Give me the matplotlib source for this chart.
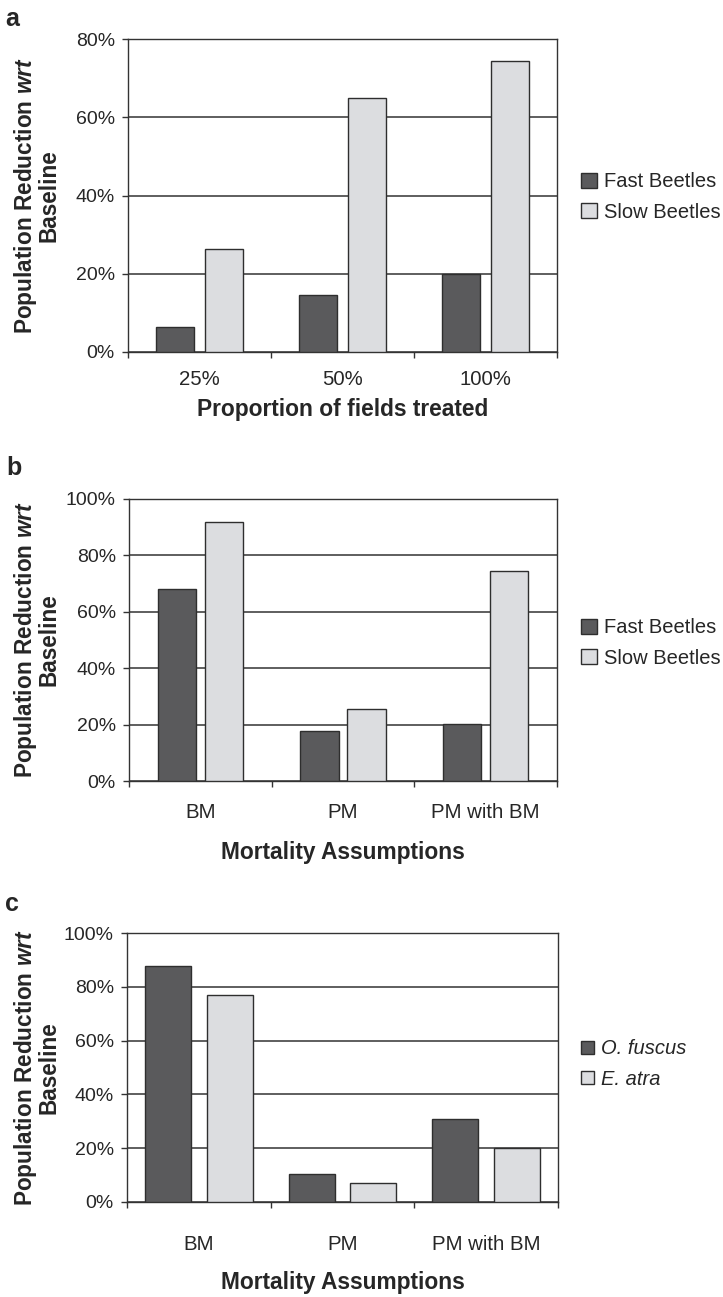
import matplotlib
matplotlib.use("Agg")
import matplotlib.pyplot as plt
import numpy as np
from matplotlib.patches import Patch

plt.rcParams['font.family'] = ['Liberation Sans', 'DejaVu Sans']
plt.rcParams['mathtext.fontset'] = 'custom'
plt.rcParams['mathtext.rm'] = 'Liberation Sans'
plt.rcParams['mathtext.it'] = 'Liberation Sans:italic'
plt.rcParams['mathtext.bf'] = 'Liberation Sans:bold'
plt.rcParams['mathtext.bfit'] = 'Liberation Sans:bold:italic'

# ---- data ----
cats_a = ["25%", "50%", "100%"]
fast_a = [6.3, 14.6, 20.0]
slow_a = [26.4, 64.8, 74.5]

cats_b = ["BM", "PM", "PM with BM"]
fast_b = [68.2, 17.6, 20.2]
slow_b = [91.8, 25.5, 74.5]

cats_c = ["BM", "PM", "PM with BM"]
ofuscus_c = [87.9, 10.4, 30.9]
eatra_c = [77.0, 6.9, 20.2]

legend_ab = ["Fast Beetles", "Slow Beetles"]
legend_c = ["O. fuscus", "E. atra"]

xlabels = ["Proportion of fields treated", "Mortality Assumptions", "Mortality Assumptions"]
ylabel = "Population Reduction $\\mathbfit{wrt}$\nBaseline"

DARK = "#5a5a5c"
LIGHT = "#dcdde0"
EDGE = "#2e2e2e"
TXT = "#262626"

W, H = 723, 1297
fig = plt.figure(figsize=(W / 100, H / 100), dpi=100)


def px_axes(left, top, right, bottom):
    return fig.add_axes([left / W, 1 - bottom / H, (right - left) / W, (bottom - top) / H])


def draw_panel(ax, cats, s1, s2, ymax, width, off, labels, italic, tick_pad,
               xlabel, xlabel_y, panel, panel_xy, leg_y, patch_size):
    x = np.arange(len(cats))
    ax.set_axisbelow(True)
    ax.yaxis.grid(True, color="#333333", linewidth=1.1)
    ax.bar(x - off, s1, width, color=DARK, edgecolor=EDGE, linewidth=1.0, zorder=3)
    ax.bar(x + off, s2, width, color=LIGHT, edgecolor=EDGE, linewidth=1.0, zorder=3)
    ax.set_xlim(-0.5, len(cats) - 0.5)
    ax.set_ylim(0, ymax)
    yt = np.arange(0, ymax + 1, 20)
    ax.set_yticks(yt)
    ax.set_yticklabels([f"{int(v)}%" for v in yt], fontsize=14, color=TXT)
    ax.set_xticks(np.arange(-0.5, len(cats), 1.0))
    ax.set_xticklabels([])
    ax.set_xticks(x, minor=True)
    ax.set_xticklabels(cats, minor=True, fontsize=14.7, color=TXT)
    ax.tick_params(axis='x', which='minor', length=0, pad=tick_pad)
    ax.tick_params(axis='x', which='major', length=4.5, width=1.0, color="#333333", direction='out')
    ax.tick_params(axis='y', length=4.5, width=1.0, color="#333333", direction='out', pad=5)
    for sp in ax.spines.values():
        sp.set_color("#333333")
        sp.set_linewidth(1.0)
    pos = ax.get_position()
    cx = 343 / W
    fig.text(cx, 1 - xlabel_y / H, xlabel, ha='center', va='center',
             fontsize=16.4, fontweight='bold', color=TXT)
    cy = pos.y0 + pos.height / 2
    fig.text(36 / W, cy, ylabel, rotation=90, ha='center', va='center',
             fontsize=16.3, fontweight='bold', color=TXT, linespacing=0.9,
             multialignment='center')
    fig.text(panel_xy[0] / W, 1 - panel_xy[1] / H, panel, ha='center', va='center',
             fontsize=18, fontweight='bold', color=TXT)
    handles = [Patch(facecolor=DARK, edgecolor=EDGE, linewidth=1.0),
               Patch(facecolor=LIGHT, edgecolor=EDGE, linewidth=1.0)]
    prop = {'size': 14.5, 'style': 'italic' if italic else 'normal'}
    leg = fig.legend(handles, labels, loc='center left',
                     bbox_to_anchor=(581 / W, 1 - leg_y / H),
                     frameon=False, prop=prop, borderpad=0, borderaxespad=0,
                     handlelength=patch_size, handleheight=patch_size,
                     handletextpad=0.35, labelspacing=0.55)
    for t in leg.get_texts():
        t.set_color(TXT)


ax_a = px_axes(128, 39, 557, 352)
draw_panel(ax_a, cats_a, fast_a, slow_a, 80, 0.27, 0.17, legend_ab, False, 13,
           xlabels[0], 410, "a", (12, 19), 197, 0.8)

ax_b = px_axes(129, 499, 557, 781)
draw_panel(ax_b, cats_b, fast_b, slow_b, 100, 0.27, 0.165, legend_ab, False, 16,
           xlabels[1], 852, "b", (14, 468), 643, 0.8)

ax_c = px_axes(127, 933, 558, 1202)
draw_panel(ax_c, cats_c, ofuscus_c, eatra_c, 100, 0.32, 0.215, legend_c, True, 24,
           xlabels[2], 1283, "c", (12, 904), 1064, 0.65)

fig.savefig("out.png", dpi=100)
